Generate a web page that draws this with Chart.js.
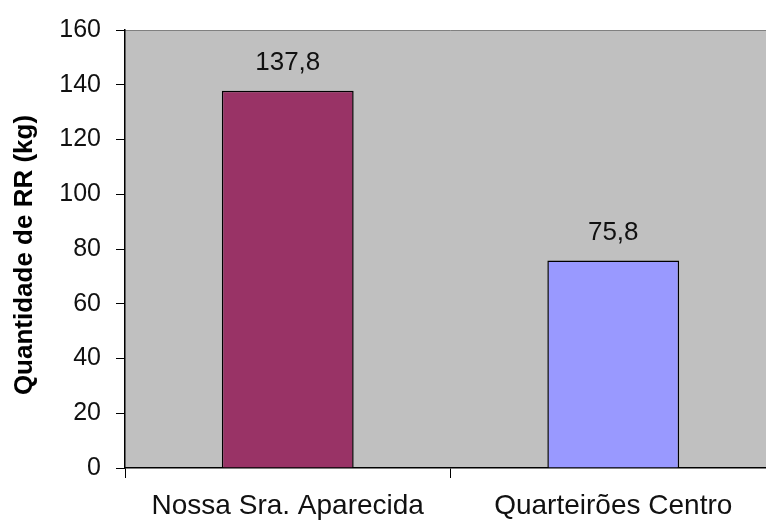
<!DOCTYPE html>
<html lang="pt">
<head>
<meta charset="UTF-8">
<title>Quantidade de RR</title>
<script src="https://cdn.jsdelivr.net/npm/chart.js"></script>
<style>
  html, body { margin: 0; padding: 0; background: #fff; overflow: hidden; }
  #wrap { width: 776px; height: 520px; }
</style>
</head>
<body>
<div id="wrap"><canvas id="rrChart" width="776" height="520"></canvas></div>
<script>
// bairros e quantidade de RR recolhida (kg)
const bairros = ["Nossa Sra. Aparecida", "Quarteirões Centro"];
const quantidades = [137.8, 75.8];
const cores = ["#993366", "#9999FF"];
const tituloY = "Quantidade de RR (kg)";

const FONTE = "'Liberation Sans', Arial, sans-serif";

// fundo cinza da área de plotagem
const plotBg = {
  id: "plotBg",
  beforeDraw(chart) {
    const { ctx, chartArea: a } = chart;
    ctx.save();
    ctx.fillStyle = "#C0C0C0";
    ctx.fillRect(a.left, a.top, a.right - a.left, a.bottom - a.top);
    ctx.strokeStyle = "#808080";
    ctx.lineWidth = 1;
    ctx.beginPath();
    ctx.moveTo(a.left, a.top + 0.5);
    ctx.lineTo(a.right, a.top + 0.5);
    ctx.stroke();
    ctx.restore();
  }
};

// rótulos de valor acima das barras + título do eixo vertical
const valueLabels = {
  id: "valueLabels",
  afterDatasetsDraw(chart) {
    const { ctx } = chart;
    const meta = chart.getDatasetMeta(0);
    ctx.save();
    ctx.font = "26px " + FONTE;
    ctx.fillStyle = "#111";
    ctx.textAlign = "center";
    ctx.textBaseline = "middle";
    meta.data.forEach((bar, i) => {
      const txt = quantidades[i].toFixed(1).replace(".", ",");
      ctx.fillText(txt, bar.x, bar.y - 28);
    });

    ctx.translate(25, 255);
    ctx.rotate(-Math.PI / 2);
    ctx.font = "bold 26px " + FONTE;
    ctx.fillStyle = "#000";
    ctx.fillText(tituloY, 0, 0);
    ctx.restore();
  }
};

new Chart(document.getElementById("rrChart"), {
  type: "bar",
  data: {
    labels: bairros,
    datasets: [{
      data: quantidades,
      backgroundColor: cores,
      borderColor: "#000",
      borderWidth: 1.5,
      barPercentage: 0.405,
      categoryPercentage: 1
    }]
  },
  options: {
    responsive: false,
    animation: false,
    layout: { padding: { top: 29, left: 0, right: 0, bottom: 0 } },
    plugins: { legend: { display: false }, tooltip: { enabled: false } },
    scales: {
      x: {
        grid: { drawOnChartArea: false, color: "#000", tickLength: 10, offset: true },
        border: { color: "#000", width: 1.5 },
        ticks: {
          color: "#111",
          font: { family: FONTE, size: 28 },
          padding: 11,
          maxRotation: 0
        },
        afterFit(scale) { scale.height = 52; }
      },
      y: {
        min: 0,
        max: 160,
        ticks: {
          stepSize: 20,
          color: "#111",
          font: { family: FONTE, size: 25 },
          padding: 15
        },
        grid: { drawOnChartArea: false, color: "#000", tickLength: 9 },
        border: { color: "#000", width: 1.5 },
        afterFit(scale) { scale.width = 125; }
      }
    }
  },
  plugins: [plotBg, valueLabels]
});
</script>
</body>
</html>
